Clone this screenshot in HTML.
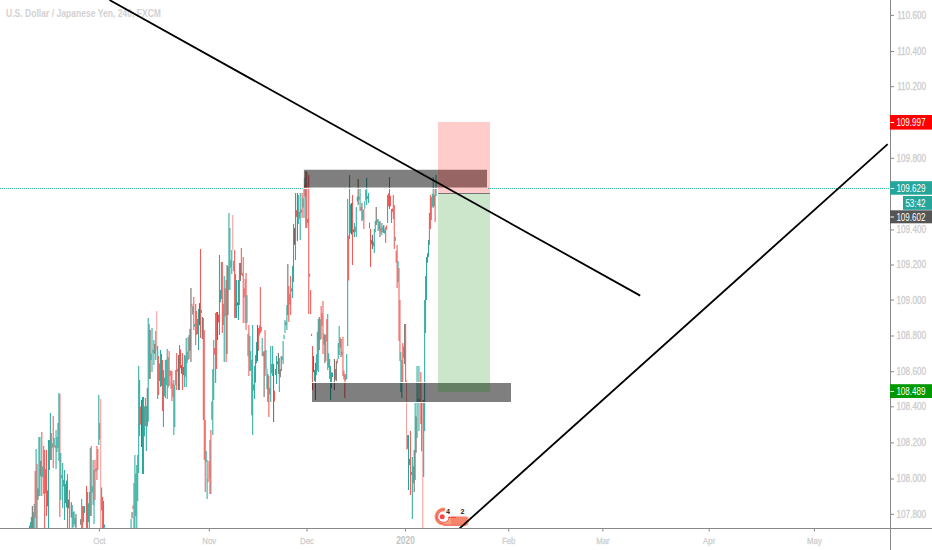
<!DOCTYPE html>
<html><head><meta charset="utf-8"><style>
html,body{margin:0;padding:0;background:#fff;width:932px;height:550px;overflow:hidden}
svg{position:absolute;left:0;top:0;display:block}
text{font-family:"Liberation Sans",sans-serif}
.pl{font-size:10.2px;fill:#c9c9c9;stroke:#d0d0d0;stroke-width:0.3px;text-anchor:end}
.tl{font-size:9.6px;fill:#c9c9c9;stroke:#d0d0d0;stroke-width:0.25px;text-anchor:middle}
.tly{font-size:10px;fill:#c4c4c4;text-anchor:middle;font-weight:bold}
.lb{font-size:10px;fill:#fff;text-anchor:end}
.title{font-size:10.5px;fill:#d2d2d2;font-weight:bold}
</style></head><body>
<svg width="932" height="550" viewBox="0 0 932 550">
<rect x="0" y="0" width="932" height="550" fill="#fff"/>
<text x="6" y="16.8" class="title" textLength="155" lengthAdjust="spacingAndGlyphs">U.S. Dollar / Japanese Yen, 240, FXCM</text>
<g clip-path="url(#plot)">
<defs><clipPath id="plot"><rect x="0" y="0" width="890" height="528"/></clipPath></defs>
<g>
<rect x="28.95" y="525.6" width="1.00" height="2.4" fill="#26a69a"/>
<rect x="29.90" y="522.0" width="1.00" height="6.0" fill="#26a69a"/>
<rect x="30.85" y="517.0" width="1.00" height="11.0" fill="#26a69a"/>
<rect x="31.80" y="506.0" width="1.00" height="22.0" fill="#6f625c"/>
<rect x="32.75" y="512.0" width="1.00" height="16.0" fill="#26a69a"/>
<rect x="33.70" y="504.0" width="1.00" height="24.0" fill="#26a69a"/>
<rect x="34.65" y="471.0" width="1.00" height="47.0" fill="#ef5350"/>
<rect x="35.60" y="449.0" width="1.00" height="79.0" fill="#26a69a"/>
<rect x="36.55" y="464.0" width="1.00" height="64.0" fill="#ef5350"/>
<rect x="37.50" y="488.4" width="1.00" height="11.4" fill="#6f625c"/>
<rect x="38.45" y="437.0" width="1.00" height="59.0" fill="#26a69a"/>
<rect x="39.40" y="437.0" width="1.00" height="59.0" fill="#26a69a"/>
<rect x="40.35" y="460.9" width="1.00" height="15.3" fill="#6f625c"/>
<rect x="41.30" y="432.0" width="1.00" height="64.0" fill="#ef5350"/>
<rect x="42.25" y="466.5" width="1.00" height="10.6" fill="#26a69a"/>
<rect x="43.20" y="446.0" width="1.00" height="48.0" fill="#ef5350"/>
<rect x="44.15" y="450.0" width="1.00" height="78.0" fill="#ef5350"/>
<rect x="45.10" y="469.0" width="1.00" height="24.3" fill="#ef5350"/>
<rect x="46.05" y="450.0" width="1.00" height="66.0" fill="#ef5350"/>
<rect x="47.00" y="490.5" width="1.00" height="15.8" fill="#26a69a"/>
<rect x="47.95" y="440.0" width="1.00" height="88.0" fill="#26a69a"/>
<rect x="48.90" y="440.0" width="1.00" height="30.0" fill="#26a69a"/>
<rect x="49.85" y="413.0" width="1.00" height="47.0" fill="#26a69a"/>
<rect x="50.80" y="433.0" width="1.00" height="27.0" fill="#ef5350"/>
<rect x="51.75" y="443.3" width="1.00" height="4.4" fill="#26a69a"/>
<rect x="52.70" y="416.0" width="1.00" height="52.0" fill="#ef5350"/>
<rect x="53.65" y="437.8" width="1.00" height="9.0" fill="#26a69a"/>
<rect x="54.60" y="445.2" width="1.00" height="3.0" fill="#ef5350"/>
<rect x="55.55" y="430.0" width="1.00" height="39.0" fill="#26a69a"/>
<rect x="56.50" y="437.0" width="1.00" height="15.0" fill="#26a69a"/>
<rect x="57.45" y="423.0" width="1.00" height="25.0" fill="#26a69a"/>
<rect x="58.40" y="393.0" width="1.00" height="68.0" fill="#26a69a"/>
<rect x="59.35" y="394.0" width="1.00" height="123.0" fill="#ef5350"/>
<rect x="60.30" y="453.0" width="1.00" height="47.0" fill="#26a69a"/>
<rect x="61.25" y="475.1" width="1.00" height="3.0" fill="#ef5350"/>
<rect x="62.20" y="463.0" width="1.00" height="45.0" fill="#26a69a"/>
<rect x="63.15" y="479.8" width="1.00" height="6.6" fill="#ef5350"/>
<rect x="64.10" y="470.0" width="1.00" height="50.0" fill="#26a69a"/>
<rect x="65.05" y="484.0" width="1.00" height="19.2" fill="#ef5350"/>
<rect x="66.00" y="480.6" width="1.00" height="26.8" fill="#26a69a"/>
<rect x="66.95" y="474.0" width="1.00" height="54.0" fill="#ef5350"/>
<rect x="67.90" y="499.6" width="1.00" height="8.7" fill="#6f625c"/>
<rect x="68.85" y="490.0" width="1.00" height="38.0" fill="#ef5350"/>
<rect x="70.75" y="502.2" width="1.00" height="15.3" fill="#6f625c"/>
<rect x="71.70" y="505.0" width="1.00" height="23.0" fill="#26a69a"/>
<rect x="72.65" y="511.9" width="1.00" height="15.4" fill="#26a69a"/>
<rect x="73.60" y="511.2" width="1.00" height="12.9" fill="#26a69a"/>
<rect x="74.55" y="518.2" width="1.00" height="8.5" fill="#26a69a"/>
<rect x="75.50" y="514.0" width="1.00" height="14.0" fill="#6f625c"/>
<rect x="80.25" y="519.1" width="1.00" height="5.7" fill="#6f625c"/>
<rect x="81.20" y="499.0" width="1.00" height="29.0" fill="#26a69a"/>
<rect x="82.15" y="506.0" width="1.00" height="22.0" fill="#ef5350"/>
<rect x="83.10" y="506.1" width="1.00" height="16.2" fill="#26a69a"/>
<rect x="84.05" y="506.0" width="1.00" height="6.9" fill="#26a69a"/>
<rect x="85.95" y="486.0" width="1.00" height="42.0" fill="#ef5350"/>
<rect x="86.90" y="492.0" width="1.00" height="36.0" fill="#26a69a"/>
<rect x="87.85" y="503.2" width="1.00" height="19.0" fill="#26a69a"/>
<rect x="88.80" y="492.0" width="1.00" height="36.0" fill="#26a69a"/>
<rect x="89.75" y="448.0" width="1.00" height="68.0" fill="#26a69a"/>
<rect x="90.70" y="446.0" width="1.00" height="70.0" fill="#ef5350"/>
<rect x="91.65" y="486.4" width="1.00" height="6.2" fill="#26a69a"/>
<rect x="92.60" y="460.0" width="1.00" height="45.0" fill="#26a69a"/>
<rect x="93.55" y="470.0" width="1.00" height="54.0" fill="#26a69a"/>
<rect x="94.50" y="460.0" width="1.00" height="40.0" fill="#ef5350"/>
<rect x="95.45" y="468.4" width="1.00" height="3.0" fill="#26a69a"/>
<rect x="96.40" y="446.0" width="1.00" height="34.0" fill="#ef5350"/>
<rect x="97.35" y="449.0" width="1.00" height="21.0" fill="#ef5350"/>
<rect x="98.30" y="395.0" width="1.00" height="50.0" fill="#26a69a"/>
<rect x="99.25" y="423.0" width="1.00" height="16.6" fill="#ef5350"/>
<rect x="100.20" y="399.0" width="1.00" height="129.0" fill="#f49a97"/>
<rect x="101.15" y="487.5" width="1.00" height="23.0" fill="#26a69a"/>
<rect x="102.10" y="497.0" width="1.00" height="31.0" fill="#ef5350"/>
<rect x="103.05" y="501.0" width="1.00" height="27.0" fill="#26a69a"/>
<rect x="104.00" y="524.6" width="1.00" height="3.0" fill="#26a69a"/>
<rect x="130.60" y="519.0" width="1.00" height="9.0" fill="#26a69a"/>
<rect x="131.55" y="512.0" width="1.00" height="6.4" fill="#6f625c"/>
<rect x="132.50" y="505.5" width="1.00" height="3.4" fill="#ef5350"/>
<rect x="133.45" y="483.0" width="1.00" height="45.0" fill="#26a69a"/>
<rect x="134.40" y="455.0" width="1.00" height="73.0" fill="#26a69a"/>
<rect x="135.35" y="473.5" width="1.00" height="42.7" fill="#26a69a"/>
<rect x="136.30" y="465.0" width="1.00" height="63.0" fill="#26a69a"/>
<rect x="137.25" y="455.0" width="1.00" height="46.0" fill="#26a69a"/>
<rect x="138.20" y="366.0" width="1.00" height="107.0" fill="#26a69a"/>
<rect x="139.15" y="380.0" width="1.00" height="56.0" fill="#26a69a"/>
<rect x="140.10" y="406.6" width="1.00" height="18.0" fill="#ef5350"/>
<rect x="141.05" y="400.0" width="1.00" height="47.0" fill="#6f625c"/>
<rect x="142.00" y="397.0" width="1.00" height="77.0" fill="#26a69a"/>
<rect x="142.95" y="397.0" width="1.00" height="77.0" fill="#26a69a"/>
<rect x="143.90" y="406.4" width="1.00" height="30.0" fill="#26a69a"/>
<rect x="144.85" y="398.0" width="1.00" height="28.0" fill="#ef5350"/>
<rect x="145.80" y="406.0" width="1.00" height="45.0" fill="#26a69a"/>
<rect x="146.75" y="388.1" width="1.00" height="38.4" fill="#6f625c"/>
<rect x="147.70" y="318.0" width="1.00" height="104.0" fill="#26a69a"/>
<rect x="148.65" y="324.0" width="1.00" height="55.0" fill="#26a69a"/>
<rect x="149.60" y="330.0" width="1.00" height="49.0" fill="#6f625c"/>
<rect x="150.55" y="353.7" width="1.00" height="6.5" fill="#26a69a"/>
<rect x="151.50" y="328.0" width="1.00" height="44.0" fill="#26a69a"/>
<rect x="152.45" y="349.8" width="1.00" height="3.0" fill="#26a69a"/>
<rect x="153.40" y="340.0" width="1.00" height="25.0" fill="#26a69a"/>
<rect x="154.35" y="344.0" width="1.00" height="9.9" fill="#6f625c"/>
<rect x="155.30" y="331.0" width="1.00" height="29.0" fill="#26a69a"/>
<rect x="156.25" y="311.0" width="1.00" height="39.0" fill="#f49a97"/>
<rect x="157.20" y="346.0" width="1.00" height="53.0" fill="#26a69a"/>
<rect x="158.15" y="356.0" width="1.00" height="39.0" fill="#ef5350"/>
<rect x="159.10" y="363.5" width="1.00" height="17.6" fill="#26a69a"/>
<rect x="160.05" y="350.0" width="1.00" height="37.0" fill="#26a69a"/>
<rect x="161.00" y="354.0" width="1.00" height="32.0" fill="#26a69a"/>
<rect x="161.95" y="360.0" width="1.00" height="51.0" fill="#ef5350"/>
<rect x="162.90" y="370.0" width="1.00" height="57.0" fill="#26a69a"/>
<rect x="163.85" y="377.7" width="1.00" height="18.5" fill="#26a69a"/>
<rect x="164.80" y="360.0" width="1.00" height="38.0" fill="#26a69a"/>
<rect x="165.75" y="359.8" width="1.00" height="25.4" fill="#26a69a"/>
<rect x="166.70" y="349.0" width="1.00" height="50.0" fill="#26a69a"/>
<rect x="167.65" y="357.3" width="1.00" height="30.3" fill="#26a69a"/>
<rect x="168.60" y="351.0" width="1.00" height="35.0" fill="#ef5350"/>
<rect x="169.55" y="370.7" width="1.00" height="5.3" fill="#ef5350"/>
<rect x="170.50" y="370.5" width="1.00" height="18.3" fill="#ef5350"/>
<rect x="171.45" y="371.0" width="1.00" height="30.0" fill="#ef5350"/>
<rect x="172.40" y="383.5" width="1.00" height="13.4" fill="#ef5350"/>
<rect x="173.35" y="380.0" width="1.00" height="55.0" fill="#26a69a"/>
<rect x="174.30" y="385.0" width="1.00" height="42.0" fill="#26a69a"/>
<rect x="175.25" y="370.0" width="1.00" height="15.0" fill="#26a69a"/>
<rect x="176.20" y="353.0" width="1.00" height="37.0" fill="#ef5350"/>
<rect x="177.15" y="368.8" width="1.00" height="3.0" fill="#ef5350"/>
<rect x="178.10" y="355.0" width="1.00" height="35.0" fill="#6f625c"/>
<rect x="179.05" y="345.0" width="1.00" height="45.0" fill="#26a69a"/>
<rect x="180.00" y="349.5" width="1.00" height="18.8" fill="#ef5350"/>
<rect x="180.95" y="365.1" width="1.00" height="8.6" fill="#6f625c"/>
<rect x="181.90" y="353.0" width="1.00" height="37.0" fill="#ef5350"/>
<rect x="182.85" y="367.0" width="1.00" height="8.1" fill="#6f625c"/>
<rect x="183.80" y="355.0" width="1.00" height="32.0" fill="#26a69a"/>
<rect x="184.75" y="355.7" width="1.00" height="21.0" fill="#26a69a"/>
<rect x="185.70" y="338.0" width="1.00" height="49.0" fill="#26a69a"/>
<rect x="186.65" y="351.6" width="1.00" height="11.5" fill="#26a69a"/>
<rect x="187.60" y="337.0" width="1.00" height="23.0" fill="#ef5350"/>
<rect x="188.55" y="335.1" width="1.00" height="23.8" fill="#26a69a"/>
<rect x="189.50" y="328.9" width="1.00" height="21.9" fill="#6f625c"/>
<rect x="190.45" y="288.0" width="1.00" height="74.0" fill="#6f625c"/>
<rect x="191.40" y="303.7" width="1.00" height="3.0" fill="#ef5350"/>
<rect x="192.35" y="306.4" width="1.00" height="8.1" fill="#6f625c"/>
<rect x="193.30" y="297.0" width="1.00" height="33.0" fill="#ef5350"/>
<rect x="194.25" y="323.8" width="1.00" height="3.0" fill="#26a69a"/>
<rect x="195.20" y="304.0" width="1.00" height="41.0" fill="#ef5350"/>
<rect x="196.15" y="311.0" width="1.00" height="24.0" fill="#ef5350"/>
<rect x="197.10" y="319.0" width="1.00" height="15.0" fill="#26a69a"/>
<rect x="198.05" y="309.0" width="1.00" height="41.0" fill="#26a69a"/>
<rect x="199.00" y="303.1" width="1.00" height="22.1" fill="#6f625c"/>
<rect x="199.95" y="249.0" width="1.00" height="89.0" fill="#ef5350"/>
<rect x="200.90" y="310.0" width="1.00" height="3.0" fill="#26a69a"/>
<rect x="201.85" y="317.0" width="1.00" height="22.0" fill="#6f625c"/>
<rect x="202.80" y="318.0" width="1.00" height="102.0" fill="#ef5350"/>
<rect x="203.75" y="330.0" width="1.00" height="130.0" fill="#ef5350"/>
<rect x="204.70" y="420.0" width="1.00" height="72.0" fill="#ef5350"/>
<rect x="205.65" y="450.9" width="1.00" height="11.0" fill="#26a69a"/>
<rect x="206.60" y="460.0" width="1.00" height="39.0" fill="#26a69a"/>
<rect x="207.55" y="478.9" width="1.00" height="3.0" fill="#ef5350"/>
<rect x="208.50" y="461.0" width="1.00" height="17.9" fill="#ef5350"/>
<rect x="209.45" y="440.0" width="1.00" height="54.0" fill="#26a69a"/>
<rect x="210.40" y="430.0" width="1.00" height="64.0" fill="#ef5350"/>
<rect x="211.35" y="401.6" width="1.00" height="18.2" fill="#26a69a"/>
<rect x="212.30" y="369.0" width="1.00" height="66.0" fill="#26a69a"/>
<rect x="213.25" y="340.0" width="1.00" height="60.0" fill="#26a69a"/>
<rect x="214.20" y="348.0" width="1.00" height="6.6" fill="#ef5350"/>
<rect x="215.15" y="313.0" width="1.00" height="70.0" fill="#26a69a"/>
<rect x="216.10" y="312.0" width="1.00" height="57.0" fill="#ef5350"/>
<rect x="217.05" y="312.0" width="1.00" height="28.0" fill="#6f625c"/>
<rect x="218.00" y="314.7" width="1.00" height="7.6" fill="#ef5350"/>
<rect x="218.95" y="255.0" width="1.00" height="80.0" fill="#26a69a"/>
<rect x="219.90" y="289.9" width="1.00" height="12.2" fill="#26a69a"/>
<rect x="220.85" y="262.0" width="1.00" height="37.0" fill="#26a69a"/>
<rect x="221.80" y="262.0" width="1.00" height="71.0" fill="#ef5350"/>
<rect x="222.75" y="303.9" width="1.00" height="21.1" fill="#ef5350"/>
<rect x="223.70" y="276.0" width="1.00" height="86.0" fill="#26a69a"/>
<rect x="224.65" y="288.3" width="1.00" height="27.9" fill="#ef5350"/>
<rect x="225.60" y="280.0" width="1.00" height="82.0" fill="#ef5350"/>
<rect x="226.55" y="265.0" width="1.00" height="89.0" fill="#6f625c"/>
<rect x="227.50" y="266.5" width="1.00" height="48.5" fill="#6f625c"/>
<rect x="228.45" y="213.0" width="1.00" height="77.0" fill="#26a69a"/>
<rect x="229.40" y="228.0" width="1.00" height="62.0" fill="#26a69a"/>
<rect x="230.35" y="260.2" width="1.00" height="7.2" fill="#26a69a"/>
<rect x="231.30" y="250.0" width="1.00" height="24.0" fill="#26a69a"/>
<rect x="232.25" y="215.0" width="1.00" height="35.0" fill="#f49a97"/>
<rect x="233.20" y="260.8" width="1.00" height="10.5" fill="#ef5350"/>
<rect x="234.15" y="250.0" width="1.00" height="68.0" fill="#ef5350"/>
<rect x="235.10" y="274.0" width="1.00" height="44.0" fill="#26a69a"/>
<rect x="236.05" y="280.0" width="1.00" height="38.0" fill="#26a69a"/>
<rect x="237.00" y="302.4" width="1.00" height="3.0" fill="#6f625c"/>
<rect x="237.95" y="280.0" width="1.00" height="40.0" fill="#26a69a"/>
<rect x="238.90" y="263.0" width="1.00" height="42.0" fill="#ef5350"/>
<rect x="239.85" y="263.0" width="1.00" height="18.0" fill="#6f625c"/>
<rect x="240.80" y="248.0" width="1.00" height="27.0" fill="#ef5350"/>
<rect x="241.75" y="273.1" width="1.00" height="3.0" fill="#ef5350"/>
<rect x="242.70" y="257.0" width="1.00" height="66.0" fill="#ef5350"/>
<rect x="243.65" y="288.3" width="1.00" height="8.9" fill="#ef5350"/>
<rect x="244.60" y="279.0" width="1.00" height="44.0" fill="#ef5350"/>
<rect x="245.55" y="273.0" width="1.00" height="57.0" fill="#ef5350"/>
<rect x="246.50" y="295.1" width="1.00" height="27.7" fill="#26a69a"/>
<rect x="247.45" y="333.8" width="1.00" height="22.5" fill="#26a69a"/>
<rect x="248.40" y="325.0" width="1.00" height="51.0" fill="#ef5350"/>
<rect x="249.35" y="336.0" width="1.00" height="35.0" fill="#26a69a"/>
<rect x="250.30" y="351.0" width="1.00" height="19.8" fill="#26a69a"/>
<rect x="251.25" y="359.9" width="1.00" height="55.4" fill="#26a69a"/>
<rect x="252.20" y="325.0" width="1.00" height="110.0" fill="#26a69a"/>
<rect x="253.15" y="384.6" width="1.00" height="5.8" fill="#26a69a"/>
<rect x="254.10" y="366.0" width="1.00" height="33.0" fill="#26a69a"/>
<rect x="255.05" y="355.1" width="1.00" height="27.5" fill="#26a69a"/>
<rect x="256.00" y="342.1" width="1.00" height="21.0" fill="#26a69a"/>
<rect x="256.95" y="325.0" width="1.00" height="36.0" fill="#6f625c"/>
<rect x="257.90" y="328.0" width="1.00" height="23.0" fill="#ef5350"/>
<rect x="258.85" y="325.6" width="1.00" height="10.0" fill="#ef5350"/>
<rect x="259.80" y="287.0" width="1.00" height="46.0" fill="#ef5350"/>
<rect x="260.75" y="326.9" width="1.00" height="4.4" fill="#ef5350"/>
<rect x="261.70" y="338.0" width="1.00" height="18.0" fill="#26a69a"/>
<rect x="262.65" y="352.2" width="1.00" height="4.2" fill="#ef5350"/>
<rect x="263.60" y="351.0" width="1.00" height="46.0" fill="#6f625c"/>
<rect x="264.55" y="330.0" width="1.00" height="46.0" fill="#ef5350"/>
<rect x="265.50" y="350.0" width="1.00" height="19.0" fill="#26a69a"/>
<rect x="266.45" y="368.9" width="1.00" height="20.2" fill="#26a69a"/>
<rect x="267.40" y="374.0" width="1.00" height="28.0" fill="#6f625c"/>
<rect x="268.35" y="376.0" width="1.00" height="41.0" fill="#ef5350"/>
<rect x="269.30" y="387.9" width="1.00" height="6.5" fill="#26a69a"/>
<rect x="270.25" y="346.0" width="1.00" height="56.0" fill="#26a69a"/>
<rect x="271.20" y="364.1" width="1.00" height="9.3" fill="#26a69a"/>
<rect x="272.15" y="346.0" width="1.00" height="30.0" fill="#26a69a"/>
<rect x="273.10" y="364.0" width="1.00" height="58.0" fill="#6f625c"/>
<rect x="274.05" y="390.7" width="1.00" height="10.7" fill="#ef5350"/>
<rect x="275.00" y="369.0" width="1.00" height="6.0" fill="#ef5350"/>
<rect x="275.95" y="356.0" width="1.00" height="28.0" fill="#26a69a"/>
<rect x="276.90" y="361.2" width="1.00" height="3.0" fill="#26a69a"/>
<rect x="277.85" y="353.0" width="1.00" height="21.0" fill="#6f625c"/>
<rect x="278.80" y="358.0" width="1.00" height="34.0" fill="#26a69a"/>
<rect x="279.75" y="369.1" width="1.00" height="8.2" fill="#6f625c"/>
<rect x="280.70" y="356.0" width="1.00" height="15.0" fill="#6f625c"/>
<rect x="281.65" y="356.9" width="1.00" height="3.0" fill="#26a69a"/>
<rect x="282.60" y="341.0" width="1.00" height="23.0" fill="#26a69a"/>
<rect x="283.55" y="334.7" width="1.00" height="4.6" fill="#26a69a"/>
<rect x="284.50" y="320.0" width="1.00" height="13.0" fill="#26a69a"/>
<rect x="285.45" y="322.1" width="1.00" height="3.0" fill="#6f625c"/>
<rect x="286.40" y="305.0" width="1.00" height="25.0" fill="#26a69a"/>
<rect x="287.35" y="264.0" width="1.00" height="51.0" fill="#6f625c"/>
<rect x="288.30" y="286.0" width="1.00" height="36.0" fill="#ef5350"/>
<rect x="289.25" y="293.9" width="1.00" height="10.7" fill="#ef5350"/>
<rect x="290.20" y="276.0" width="1.00" height="39.0" fill="#ef5350"/>
<rect x="291.15" y="288.4" width="1.00" height="3.0" fill="#26a69a"/>
<rect x="292.10" y="266.0" width="1.00" height="32.0" fill="#26a69a"/>
<rect x="293.05" y="224.0" width="1.00" height="58.0" fill="#26a69a"/>
<rect x="294.00" y="228.2" width="1.00" height="16.6" fill="#6f625c"/>
<rect x="294.95" y="193.0" width="1.00" height="67.0" fill="#26a69a"/>
<rect x="295.90" y="210.3" width="1.00" height="6.6" fill="#ef5350"/>
<rect x="296.85" y="193.0" width="1.00" height="48.0" fill="#6f625c"/>
<rect x="297.80" y="195.0" width="1.00" height="29.0" fill="#26a69a"/>
<rect x="298.75" y="211.8" width="1.00" height="6.8" fill="#26a69a"/>
<rect x="299.70" y="193.0" width="1.00" height="47.0" fill="#26a69a"/>
<rect x="300.65" y="209.7" width="1.00" height="3.0" fill="#6f625c"/>
<rect x="301.60" y="193.0" width="1.00" height="25.0" fill="#ef5350"/>
<rect x="302.55" y="198.4" width="1.00" height="9.1" fill="#26a69a"/>
<rect x="303.50" y="178.0" width="1.00" height="40.0" fill="#26a69a"/>
<rect x="304.45" y="184.7" width="1.00" height="11.8" fill="#ef5350"/>
<rect x="305.40" y="171.0" width="1.00" height="57.0" fill="#6f625c"/>
<rect x="306.35" y="172.0" width="1.00" height="56.0" fill="#ef5350"/>
<rect x="307.30" y="219.0" width="1.00" height="3.8" fill="#6f625c"/>
<rect x="308.25" y="175.0" width="1.00" height="139.0" fill="#ef5350"/>
<rect x="309.20" y="273.7" width="1.00" height="3.0" fill="#26a69a"/>
<rect x="310.15" y="290.0" width="1.00" height="24.0" fill="#ef5350"/>
<rect x="311.10" y="333.8" width="1.00" height="2.2" fill="#ef5350"/>
<rect x="312.05" y="346.0" width="1.00" height="44.0" fill="#ef5350"/>
<rect x="313.00" y="356.0" width="1.00" height="16.1" fill="#6f625c"/>
<rect x="313.95" y="370.1" width="1.00" height="10.8" fill="#26a69a"/>
<rect x="314.90" y="363.0" width="1.00" height="37.0" fill="#6f625c"/>
<rect x="315.85" y="354.5" width="1.00" height="20.7" fill="#26a69a"/>
<rect x="316.80" y="331.7" width="1.00" height="38.7" fill="#26a69a"/>
<rect x="317.75" y="319.0" width="1.00" height="53.0" fill="#26a69a"/>
<rect x="318.70" y="317.0" width="1.00" height="33.0" fill="#6f625c"/>
<rect x="319.65" y="319.3" width="1.00" height="20.7" fill="#26a69a"/>
<rect x="320.60" y="306.0" width="1.00" height="33.0" fill="#ef5350"/>
<rect x="321.55" y="313.2" width="1.00" height="12.6" fill="#ef5350"/>
<rect x="322.50" y="301.0" width="1.00" height="53.0" fill="#ef5350"/>
<rect x="323.45" y="333.3" width="1.00" height="11.3" fill="#26a69a"/>
<rect x="324.40" y="335.0" width="1.00" height="28.0" fill="#6f625c"/>
<rect x="325.35" y="334.4" width="1.00" height="26.9" fill="#ef5350"/>
<rect x="326.30" y="319.1" width="1.00" height="22.5" fill="#ef5350"/>
<rect x="327.25" y="314.0" width="1.00" height="56.0" fill="#26a69a"/>
<rect x="328.20" y="353.3" width="1.00" height="14.4" fill="#26a69a"/>
<rect x="329.15" y="359.0" width="1.00" height="20.0" fill="#ef5350"/>
<rect x="330.10" y="366.0" width="1.00" height="34.0" fill="#26a69a"/>
<rect x="331.05" y="372.2" width="1.00" height="15.9" fill="#26a69a"/>
<rect x="332.00" y="372.7" width="1.00" height="4.3" fill="#26a69a"/>
<rect x="333.90" y="359.0" width="1.00" height="31.0" fill="#6f625c"/>
<rect x="334.85" y="369.0" width="1.00" height="10.8" fill="#ef5350"/>
<rect x="335.80" y="361.0" width="1.00" height="20.0" fill="#6f625c"/>
<rect x="336.75" y="358.9" width="1.00" height="4.5" fill="#ef5350"/>
<rect x="337.70" y="343.0" width="1.00" height="16.0" fill="#26a69a"/>
<rect x="338.65" y="326.0" width="1.00" height="29.0" fill="#26a69a"/>
<rect x="339.60" y="337.3" width="1.00" height="10.4" fill="#ef5350"/>
<rect x="340.55" y="339.0" width="1.00" height="18.0" fill="#6f625c"/>
<rect x="341.50" y="351.6" width="1.00" height="3.0" fill="#26a69a"/>
<rect x="342.45" y="337.0" width="1.00" height="39.0" fill="#ef5350"/>
<rect x="343.40" y="370.7" width="1.00" height="8.7" fill="#ef5350"/>
<rect x="344.35" y="374.0" width="1.00" height="24.0" fill="#ef5350"/>
<rect x="345.30" y="374.3" width="1.00" height="6.1" fill="#26a69a"/>
<rect x="346.25" y="354.0" width="1.00" height="25.0" fill="#26a69a"/>
<rect x="347.20" y="199.0" width="1.00" height="147.0" fill="#26a69a"/>
<rect x="348.15" y="235.6" width="1.00" height="44.9" fill="#ef5350"/>
<rect x="349.10" y="175.0" width="1.00" height="64.0" fill="#26a69a"/>
<rect x="350.05" y="204.3" width="1.00" height="28.8" fill="#26a69a"/>
<rect x="351.00" y="203.1" width="1.00" height="31.5" fill="#6f625c"/>
<rect x="351.95" y="195.0" width="1.00" height="70.0" fill="#ef5350"/>
<rect x="352.90" y="229.4" width="1.00" height="3.0" fill="#6f625c"/>
<rect x="353.85" y="223.0" width="1.00" height="14.0" fill="#26a69a"/>
<rect x="354.80" y="226.7" width="1.00" height="5.1" fill="#ef5350"/>
<rect x="355.75" y="207.0" width="1.00" height="30.0" fill="#26a69a"/>
<rect x="356.70" y="196.7" width="1.00" height="4.7" fill="#26a69a"/>
<rect x="357.65" y="179.0" width="1.00" height="26.0" fill="#6f625c"/>
<rect x="358.60" y="196.5" width="1.00" height="3.0" fill="#26a69a"/>
<rect x="359.55" y="189.0" width="1.00" height="22.0" fill="#26a69a"/>
<rect x="360.50" y="207.1" width="1.00" height="3.5" fill="#ef5350"/>
<rect x="361.45" y="203.0" width="1.00" height="18.0" fill="#6f625c"/>
<rect x="362.40" y="210.3" width="1.00" height="9.2" fill="#26a69a"/>
<rect x="363.35" y="209.0" width="1.00" height="20.0" fill="#ef5350"/>
<rect x="364.30" y="201.2" width="1.00" height="7.6" fill="#26a69a"/>
<rect x="365.25" y="189.8" width="1.00" height="10.7" fill="#26a69a"/>
<rect x="366.20" y="178.0" width="1.00" height="27.0" fill="#26a69a"/>
<rect x="367.15" y="196.0" width="1.00" height="3.0" fill="#ef5350"/>
<rect x="368.10" y="193.0" width="1.00" height="10.0" fill="#26a69a"/>
<rect x="369.05" y="222.6" width="1.00" height="5.9" fill="#ef5350"/>
<rect x="370.00" y="229.0" width="1.00" height="38.0" fill="#ef5350"/>
<rect x="370.95" y="239.9" width="1.00" height="4.4" fill="#26a69a"/>
<rect x="371.90" y="235.0" width="1.00" height="14.0" fill="#6f625c"/>
<rect x="372.85" y="241.7" width="1.00" height="4.5" fill="#26a69a"/>
<rect x="373.80" y="229.0" width="1.00" height="24.0" fill="#26a69a"/>
<rect x="374.75" y="221.1" width="1.00" height="11.3" fill="#26a69a"/>
<rect x="375.70" y="207.0" width="1.00" height="18.0" fill="#6f625c"/>
<rect x="376.65" y="219.4" width="1.00" height="3.0" fill="#26a69a"/>
<rect x="377.60" y="219.0" width="1.00" height="12.0" fill="#26a69a"/>
<rect x="378.55" y="222.2" width="1.00" height="7.6" fill="#26a69a"/>
<rect x="379.50" y="221.0" width="1.00" height="16.0" fill="#6f625c"/>
<rect x="380.45" y="227.8" width="1.00" height="4.8" fill="#ef5350"/>
<rect x="381.40" y="223.0" width="1.00" height="12.0" fill="#26a69a"/>
<rect x="382.35" y="226.5" width="1.00" height="5.4" fill="#26a69a"/>
<rect x="383.30" y="225.0" width="1.00" height="8.0" fill="#6f625c"/>
<rect x="384.25" y="229.4" width="1.00" height="4.4" fill="#26a69a"/>
<rect x="385.20" y="227.0" width="1.00" height="16.0" fill="#ef5350"/>
<rect x="386.15" y="225.4" width="1.00" height="4.2" fill="#ef5350"/>
<rect x="387.10" y="195.0" width="1.00" height="28.0" fill="#26a69a"/>
<rect x="388.05" y="193.4" width="1.00" height="13.0" fill="#ef5350"/>
<rect x="389.00" y="177.0" width="1.00" height="32.0" fill="#ef5350"/>
<rect x="389.95" y="195.8" width="1.00" height="10.5" fill="#ef5350"/>
<rect x="390.90" y="209.0" width="1.00" height="14.0" fill="#26a69a"/>
<rect x="391.85" y="208.5" width="1.00" height="3.6" fill="#ef5350"/>
<rect x="392.80" y="195.0" width="1.00" height="24.0" fill="#ef5350"/>
<rect x="393.75" y="205.0" width="1.00" height="44.0" fill="#ef5350"/>
<rect x="394.70" y="236.7" width="1.00" height="4.4" fill="#26a69a"/>
<rect x="395.65" y="250.8" width="1.00" height="11.9" fill="#ef5350"/>
<rect x="396.60" y="245.0" width="1.00" height="43.0" fill="#ef5350"/>
<rect x="397.55" y="261.0" width="1.00" height="21.0" fill="#26a69a"/>
<rect x="398.50" y="268.0" width="1.00" height="73.0" fill="#ef5350"/>
<rect x="399.45" y="300.0" width="1.00" height="61.0" fill="#ef5350"/>
<rect x="400.40" y="352.0" width="1.00" height="40.0" fill="#26a69a"/>
<rect x="401.35" y="360.0" width="1.00" height="38.0" fill="#26a69a"/>
<rect x="402.30" y="343.0" width="1.00" height="39.0" fill="#ef5350"/>
<rect x="403.25" y="346.5" width="1.00" height="11.5" fill="#ef5350"/>
<rect x="404.20" y="324.0" width="1.00" height="40.0" fill="#6f625c"/>
<rect x="405.15" y="324.0" width="1.00" height="58.0" fill="#ef5350"/>
<rect x="406.10" y="380.0" width="1.00" height="70.0" fill="#f49a97"/>
<rect x="407.05" y="435.1" width="1.00" height="13.8" fill="#ef5350"/>
<rect x="408.00" y="435.0" width="1.00" height="55.0" fill="#26a69a"/>
<rect x="408.95" y="458.8" width="1.00" height="6.2" fill="#ef5350"/>
<rect x="409.90" y="431.0" width="1.00" height="64.0" fill="#ef5350"/>
<rect x="410.85" y="472.0" width="1.00" height="3.0" fill="#ef5350"/>
<rect x="411.80" y="457.0" width="1.00" height="62.0" fill="#26a69a"/>
<rect x="412.75" y="466.3" width="1.00" height="16.9" fill="#26a69a"/>
<rect x="413.70" y="450.0" width="1.00" height="42.0" fill="#6f625c"/>
<rect x="414.65" y="403.0" width="1.00" height="77.0" fill="#26a69a"/>
<rect x="415.60" y="416.4" width="1.00" height="36.4" fill="#6f625c"/>
<rect x="416.55" y="366.0" width="1.00" height="72.0" fill="#26a69a"/>
<rect x="417.50" y="398.4" width="1.00" height="3.8" fill="#26a69a"/>
<rect x="418.45" y="366.0" width="1.00" height="65.0" fill="#26a69a"/>
<rect x="419.40" y="399.3" width="1.00" height="3.0" fill="#26a69a"/>
<rect x="420.35" y="372.0" width="1.00" height="52.0" fill="#ef5350"/>
<rect x="421.30" y="401.8" width="1.00" height="49.5" fill="#6f625c"/>
<rect x="422.25" y="400.0" width="1.00" height="128.0" fill="#f49a97"/>
<rect x="423.20" y="400.0" width="1.00" height="77.0" fill="#26a69a"/>
<rect x="424.15" y="300.0" width="1.00" height="131.0" fill="#26a69a"/>
<rect x="425.10" y="276.0" width="1.00" height="57.0" fill="#26a69a"/>
<rect x="426.05" y="257.0" width="1.00" height="43.0" fill="#26a69a"/>
<rect x="427.00" y="253.2" width="1.00" height="9.4" fill="#26a69a"/>
<rect x="427.95" y="240.0" width="1.00" height="17.0" fill="#26a69a"/>
<rect x="428.90" y="213.0" width="1.00" height="32.0" fill="#ef5350"/>
<rect x="429.85" y="195.0" width="1.00" height="34.0" fill="#ef5350"/>
<rect x="430.80" y="197.0" width="1.00" height="23.0" fill="#ef5350"/>
<rect x="431.75" y="193.8" width="1.00" height="13.0" fill="#26a69a"/>
<rect x="432.70" y="177.0" width="1.00" height="31.0" fill="#26a69a"/>
<rect x="433.65" y="194.7" width="1.00" height="11.5" fill="#6f625c"/>
<rect x="434.60" y="189.0" width="1.00" height="33.0" fill="#ef5350"/>
<rect x="435.55" y="175.0" width="1.00" height="21.0" fill="#26a69a"/>
</g>
<line x1="0" y1="188.5" x2="890" y2="188.5" stroke="#26a69a" stroke-width="1" stroke-opacity="0.2"/><line x1="0" y1="188.5" x2="890" y2="188.5" stroke="#26a69a" stroke-width="1" stroke-dasharray="1,1" stroke-opacity="0.85"/>
<rect x="303.7" y="169.5" width="183.3" height="18" fill="rgba(0,0,0,0.5)"/>
<rect x="303.2" y="169" width="184.3" height="19.5" fill="none" stroke="#fff" stroke-width="1"/>
<rect x="312" y="383" width="199" height="19" fill="rgba(0,0,0,0.5)"/>
<rect x="311.5" y="382.5" width="200" height="20" fill="none" stroke="#fff" stroke-width="1"/>
<rect x="438" y="122" width="52" height="71" fill="rgba(255,0,0,0.2)"/>
<rect x="438" y="194" width="52" height="198" fill="rgba(0,128,0,0.2)"/>
<line x1="438" y1="193.5" x2="490" y2="193.5" stroke="#777" stroke-width="1"/>
<g>
<path d="M445.06,507.74 A9,9 0 1 0 443.5,525.6 L466.5,525.6 Q468.5,525.6 468.5,523.5 L468.5,517 L449.3,516.6 A5.8,5.8 0 1 1 444.5,510.9 Z" fill="#f7a07c"/>
<path d="M444.8,509.3 A7.4,7.4 0 1 0 443.5,524" fill="none" stroke="#f0524a" stroke-width="1"/>
<path d="M449.3,516.6 A5.8,5.8 0 1 1 444.5,510.9" fill="none" stroke="#f0524a" stroke-width="0.9"/>
<line x1="443.5" y1="525.2" x2="466" y2="525.2" stroke="#f0524a" stroke-width="1"/>
<line x1="448" y1="517.5" x2="456" y2="517.5" stroke="#f0524a" stroke-width="1"/>
<line x1="452.0" y1="515.8" x2="452.0" y2="524.5" stroke="#ef4a45" stroke-width="0.8" opacity="0.75"/><line x1="454.0" y1="515.8" x2="454.0" y2="524.5" stroke="#ef4a45" stroke-width="0.8" opacity="0.75"/><line x1="456.0" y1="515.8" x2="456.0" y2="524.5" stroke="#ef4a45" stroke-width="0.8" opacity="0.75"/><line x1="458.0" y1="515.8" x2="458.0" y2="524.5" stroke="#ef4a45" stroke-width="0.8" opacity="0.75"/><line x1="460.0" y1="515.8" x2="460.0" y2="524.5" stroke="#ef4a45" stroke-width="0.8" opacity="0.75"/><line x1="462.0" y1="515.8" x2="462.0" y2="524.5" stroke="#ef4a45" stroke-width="0.8" opacity="0.75"/><line x1="464.0" y1="515.8" x2="464.0" y2="524.5" stroke="#ef4a45" stroke-width="0.8" opacity="0.75"/><line x1="466.0" y1="515.8" x2="466.0" y2="524.5" stroke="#ef4a45" stroke-width="0.8" opacity="0.75"/>
<circle cx="442.2" cy="516.7" r="2.5" fill="#f04848"/>
<text x="448" y="513.7" style="font-size:7.2px;font-weight:bold;fill:#222;text-anchor:middle;font-family:'Liberation Sans',sans-serif">4</text>
<text x="462.4" y="513.7" style="font-size:7.2px;font-weight:bold;fill:#222;text-anchor:middle;font-family:'Liberation Sans',sans-serif">2</text>
</g>
<line x1="109.5" y1="0" x2="640.2" y2="295.6" stroke="#000" stroke-width="1.8"/>
<line x1="459.6" y1="528.4" x2="887.7" y2="144.2" stroke="#000" stroke-width="1.8"/>
</g>
<line x1="890.5" y1="0" x2="890.5" y2="550" stroke="#888" stroke-width="1"/>
<line x1="0" y1="528.5" x2="932" y2="528.5" stroke="#888" stroke-width="1"/>
<line x1="890.5" y1="15.4" x2="894" y2="15.4" stroke="#888" stroke-width="1"/>
<text transform="translate(926,18.8) scale(0.8,1)" class="pl">110.600</text>
<line x1="890.5" y1="51.5" x2="894" y2="51.5" stroke="#888" stroke-width="1"/>
<text transform="translate(926,54.9) scale(0.8,1)" class="pl">110.400</text>
<line x1="890.5" y1="86.7" x2="894" y2="86.7" stroke="#888" stroke-width="1"/>
<text transform="translate(926,90.1) scale(0.8,1)" class="pl">110.200</text>
<line x1="890.5" y1="158.3" x2="894" y2="158.3" stroke="#888" stroke-width="1"/>
<text transform="translate(926,161.7) scale(0.8,1)" class="pl">109.800</text>
<line x1="890.5" y1="229.9" x2="894" y2="229.9" stroke="#888" stroke-width="1"/>
<text transform="translate(926,233.3) scale(0.8,1)" class="pl">109.400</text>
<line x1="890.5" y1="265.0" x2="894" y2="265.0" stroke="#888" stroke-width="1"/>
<text transform="translate(926,268.4) scale(0.8,1)" class="pl">109.200</text>
<line x1="890.5" y1="300.1" x2="894" y2="300.1" stroke="#888" stroke-width="1"/>
<text transform="translate(926,303.5) scale(0.8,1)" class="pl">109.000</text>
<line x1="890.5" y1="336.0" x2="894" y2="336.0" stroke="#888" stroke-width="1"/>
<text transform="translate(926,339.4) scale(0.8,1)" class="pl">108.800</text>
<line x1="890.5" y1="371.7" x2="894" y2="371.7" stroke="#888" stroke-width="1"/>
<text transform="translate(926,375.1) scale(0.8,1)" class="pl">108.600</text>
<line x1="890.5" y1="406.8" x2="894" y2="406.8" stroke="#888" stroke-width="1"/>
<text transform="translate(926,410.2) scale(0.8,1)" class="pl">108.400</text>
<line x1="890.5" y1="442.9" x2="894" y2="442.9" stroke="#888" stroke-width="1"/>
<text transform="translate(926,446.3) scale(0.8,1)" class="pl">108.200</text>
<line x1="890.5" y1="479.0" x2="894" y2="479.0" stroke="#888" stroke-width="1"/>
<text transform="translate(926,482.4) scale(0.8,1)" class="pl">108.000</text>
<line x1="890.5" y1="514.3" x2="894" y2="514.3" stroke="#888" stroke-width="1"/>
<text transform="translate(926,517.7) scale(0.8,1)" class="pl">107.800</text>
<line x1="99.4" y1="528" x2="99.4" y2="531.5" stroke="#888" stroke-width="1"/>
<text transform="translate(99.4,544) scale(0.82,1)" class="tl">Oct</text>
<line x1="209.3" y1="528" x2="209.3" y2="531.5" stroke="#888" stroke-width="1"/>
<text transform="translate(209.3,544) scale(0.82,1)" class="tl">Nov</text>
<line x1="307.0" y1="528" x2="307.0" y2="531.5" stroke="#888" stroke-width="1"/>
<text transform="translate(307.0,544) scale(0.82,1)" class="tl">Dec</text>
<line x1="405.5" y1="528" x2="405.5" y2="531.5" stroke="#888" stroke-width="1"/>
<text transform="translate(405.5,544) scale(0.84,1)" class="tly">2020</text>
<line x1="508.7" y1="528" x2="508.7" y2="531.5" stroke="#888" stroke-width="1"/>
<text transform="translate(508.7,544) scale(0.82,1)" class="tl">Feb</text>
<line x1="602.9" y1="528" x2="602.9" y2="531.5" stroke="#888" stroke-width="1"/>
<text transform="translate(602.9,544) scale(0.82,1)" class="tl">Mar</text>
<line x1="709.2" y1="528" x2="709.2" y2="531.5" stroke="#888" stroke-width="1"/>
<text transform="translate(709.2,544) scale(0.82,1)" class="tl">Apr</text>
<line x1="814.4" y1="528" x2="814.4" y2="531.5" stroke="#888" stroke-width="1"/>
<text transform="translate(814.4,544) scale(0.82,1)" class="tl">May</text>
<rect x="890" y="115" width="42" height="14.6" fill="#ff0000"/>
<line x1="890.5" y1="122.5" x2="894" y2="122.5" stroke="#fff"/>
<text transform="translate(925.6,126) scale(0.81,1)" class="lb">109.997</text>
<rect x="890" y="181.2" width="42" height="13.5" fill="#26a69a"/>
<line x1="890.5" y1="188.5" x2="894" y2="188.5" stroke="#fff"/>
<text transform="translate(925.6,191.5) scale(0.81,1)" class="lb">109.629</text>
<rect x="903" y="196" width="29" height="13.8" fill="#26a69a"/>
<text transform="translate(925.6,206.5) scale(0.81,1)" class="lb">53:42</text>
<rect x="890" y="210.3" width="42" height="13" fill="#555"/>
<line x1="890.5" y1="217" x2="894" y2="217" stroke="#fff"/>
<text transform="translate(925.6,221) scale(0.81,1)" class="lb">109.602</text>
<rect x="890" y="384.2" width="42" height="13.8" fill="#009900"/>
<line x1="890.5" y1="391.5" x2="894" y2="391.5" stroke="#fff"/>
<text transform="translate(925.6,395) scale(0.81,1)" class="lb">108.489</text>
</svg>
</body></html>
